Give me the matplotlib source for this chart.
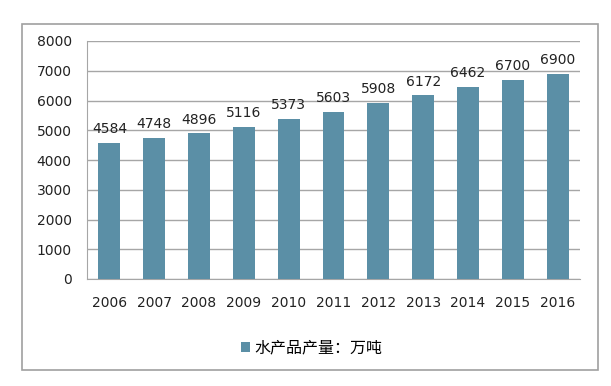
import matplotlib.pyplot as plt
from matplotlib.patches import Rectangle

plt.rcParams['font.family'] = ['DejaVu Sans', 'Noto Sans CJK SC']

years = ['2006', '2007', '2008', '2009', '2010', '2011',
         '2012', '2013', '2014', '2015', '2016']
output = [4584, 4748, 4896, 5116, 5373, 5603, 5908, 6172, 6462, 6700, 6900]
series_name = '水产品产量：万吨'

bar_color = '#5B8FA6'
grid_color = '#A6A6A6'

fig = plt.figure(figsize=(6.11, 3.86), dpi=100)
ax = fig.add_axes([87 / 611, 1 - 279 / 386, (580 - 87) / 611, (279 - 41) / 386])

bars = ax.bar(years, output, color=bar_color, width=0.49, label=series_name, zorder=3)
for rect, v in zip(bars, output):
    ax.text(rect.get_x() + rect.get_width() / 2, v + 230, str(v),
            ha='center', va='bottom', fontsize=10, color='#222222')

ax.set_ylim(0, 8000)
ax.set_yticks(range(0, 8001, 1000))
ax.set_xlim(-0.5, len(years) - 0.5)
ax.grid(axis='y', color=grid_color, linewidth=1, zorder=0)
for side in ['top', 'right']:
    ax.spines[side].set_visible(False)
ax.spines['left'].set_color(grid_color)
ax.spines['bottom'].set_color(grid_color)
ax.tick_params(axis='y', length=0, pad=11, labelsize=10, colors='#222222')
ax.tick_params(axis='x', length=0, pad=12, labelsize=10, colors='#222222')

fig.legend(loc='center', bbox_to_anchor=(312 / 611, 1 - 348 / 386), frameon=False,
           fontsize=11.5, handlelength=0.55, handleheight=0.55, handletextpad=0.3)

fig.patches.append(Rectangle((22 / 611, 1 - 370 / 386), 576 / 611, 346 / 386,
                             transform=fig.transFigure, fill=False,
                             edgecolor='#A0A0A0', linewidth=1.2))

fig.savefig('out.png', dpi=100)
